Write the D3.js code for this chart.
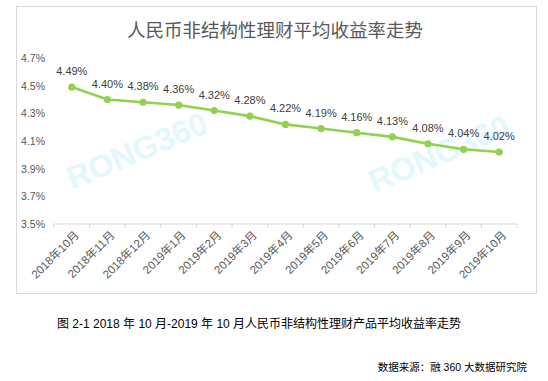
<!DOCTYPE html>
<html>
<head>
<meta charset="utf-8">
<script src="https://cdn.jsdelivr.net/npm/d3@7"></script>
<style>
  body { margin: 0; background: #fff; }
  svg { display: block; }
  text { font-family: "Liberation Sans", "Noto Sans CJK SC", sans-serif; }
</style>
</head>
<body>
<svg width="548" height="381"></svg>
<script>
// chart values
const months = ["2018年10月", "2018年11月", "2018年12月", "2019年1月", "2019年2月", "2019年3月",
    "2019年4月", "2019年5月", "2019年6月", "2019年7月", "2019年8月", "2019年9月", "2019年10月"]
const rates = [4.49, 4.40, 4.38, 4.36, 4.32, 4.28, 4.22, 4.19, 4.16, 4.13, 4.08, 4.04, 4.02]
const yTicks = [3.5, 3.7, 3.9, 4.1, 4.3, 4.5, 4.7]
const chartTitle = "人民币非结构性理财平均收益率走势"
const caption = "图 2-1 2018 年 10 月-2019 年 10 月人民币非结构性理财产品平均收益率走势"
const source = "数据来源：融 360 大数据研究院"

const svg = d3.select("svg")

// outer frame of the chart area
svg.append("rect")
    .attr("x", 16.5).attr("y", 6.5)
    .attr("width", 520).attr("height", 287)
    .attr("fill", "#fff")
    .attr("stroke", "#d9d9d9")

svg.append("text")
    .attr("x", 275).attr("y", 37)
    .attr("text-anchor", "middle")
    .attr("font-size", 18.5)
    .attr("font-family", "Noto Sans CJK SC")
    .attr("fill", "#595959")
    .text(chartTitle)

const x = d3.scaleBand().domain(months).range([54, 517])
const y = d3.scaleLinear().domain([3.5, 4.7]).range([224, 58])

// watermarks
const marks = [[138, 153], [440, 156]]
svg.append("g").selectAll("text")
    .data(marks)
    .enter()
    .append("text")
    .attr("transform", d => `translate(${d[0]},${d[1]}) rotate(-23)`)
    .attr("text-anchor", "middle")
    .attr("dominant-baseline", "middle")
    .attr("font-size", 32)
    .attr("font-weight", "bold")
    .attr("fill", "#e3f7fd")
    .text("RONG360")

// y axis labels (no axis line, no grid)
svg.append("g").selectAll("text")
    .data(yTicks)
    .enter()
    .append("text")
    .attr("x", 45)
    .attr("y", d => y(d) + 4)
    .attr("text-anchor", "end")
    .attr("font-size", 10.5)
    .attr("fill", "#595959")
    .text(d => d.toFixed(1) + "%")

// x axis with ticks at band edges
const xAxis = svg.append("g").attr("transform", `translate(0,${y(3.5)})`)
xAxis.append("line")
    .attr("x1", 54).attr("x2", 517)
    .attr("stroke", "#d9d9d9")
xAxis.selectAll("line.tick")
    .data(months.map(m => x(m)).concat([517]))
    .enter()
    .append("line")
    .attr("class", "tick")
    .attr("x1", d => d).attr("x2", d => d)
    .attr("y1", 0).attr("y2", 4)
    .attr("stroke", "#d9d9d9")
xAxis.selectAll("text")
    .data(months)
    .enter()
    .append("text")
    .attr("transform", d => `translate(${x(d) + x.bandwidth() / 2 + 5},9) rotate(-45)`)
    .attr("text-anchor", "end")
    .attr("dy", "0.35em")
    .attr("font-size", 11.5)
    .attr("fill", "#595959")
    .text(d => d)

const cx = (d, i) => x(months[i]) + x.bandwidth() / 2

const line = d3.line()
    .x((d, i) => cx(d, i))
    .y(d => y(d))

svg.append("path")
    .datum(rates)
    .attr("d", line)
    .attr("fill", "none")
    .attr("stroke", "#92d050")
    .attr("stroke-width", 2.6)
    .attr("stroke-linejoin", "round")

svg.append("g").selectAll("circle")
    .data(rates)
    .enter()
    .append("circle")
    .attr("cx", cx)
    .attr("cy", d => y(d))
    .attr("r", 3.6)
    .attr("fill", "#92d050")

svg.append("g").selectAll("text")
    .data(rates)
    .enter()
    .append("text")
    .attr("x", cx)
    .attr("y", d => y(d) - 12)
    .attr("text-anchor", "middle")
    .attr("font-size", 11)
    .attr("fill", "#404040")
    .text(d => d.toFixed(2) + "%")

svg.append("text")
    .attr("x", 57).attr("y", 328)
    .attr("font-size", 12)
    .attr("font-family", "Noto Sans CJK SC")
    .attr("fill", "#000")
    .text(caption)

svg.append("text")
    .attr("x", 527).attr("y", 371)
    .attr("text-anchor", "end")
    .attr("font-size", 10.5)
    .attr("font-family", "Noto Sans CJK SC")
    .attr("fill", "#000")
    .text(source)
</script>
</body>
</html>
